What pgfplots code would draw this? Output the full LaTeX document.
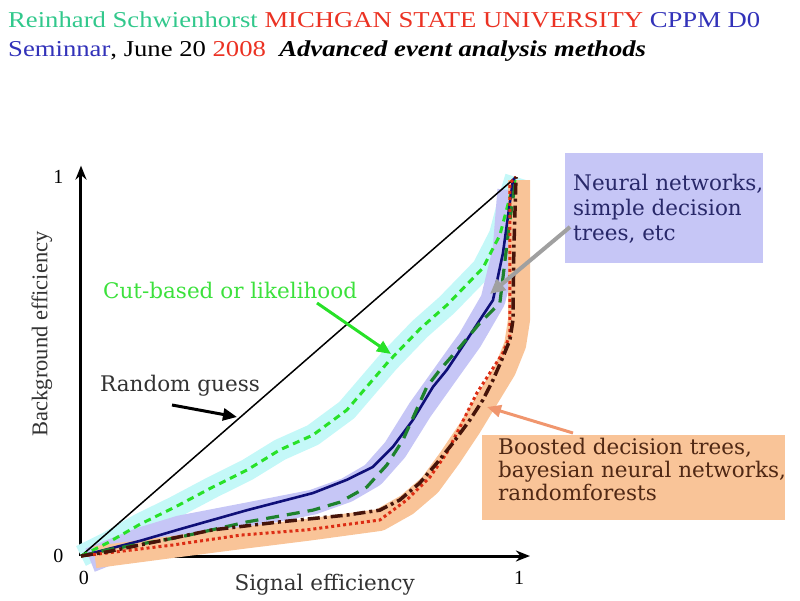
\documentclass[border=0pt]{standalone}
\usepackage{pgfplots}
\pgfplotsset{compat=1.18}
\usepackage{fontspec}
\setmainfont{Liberation Serif}
\newfontfamily\dvs{DejaVu Serif}
\usetikzlibrary{arrows.meta}
\definecolor{hdgreen}{RGB}{50,200,140}
\definecolor{hdred}{RGB}{235,50,35}
\definecolor{hdblue}{RGB}{50,50,185}
\definecolor{cyanband}{RGB}{196,248,248}
\definecolor{lavband}{RGB}{198,198,246}
\definecolor{orband}{RGB}{249,196,152}
\definecolor{cutgreen}{RGB}{40,225,40}
\definecolor{labgreen}{RGB}{60,225,60}
\definecolor{dkgreen}{RGB}{30,130,45}
\definecolor{navy}{RGB}{15,15,120}
\definecolor{dkbrown}{RGB}{70,20,10}
\definecolor{dotred}{RGB}{220,45,20}
\definecolor{nntext}{RGB}{40,40,105}
\definecolor{bdttext}{RGB}{80,40,20}
\definecolor{grayarrow}{RGB}{160,160,160}
\definecolor{orarrow}{RGB}{240,150,110}
\pgfplotstableread{
x y
0 0
0.060 0.034
0.136 0.084
0.216 0.129
0.303 0.182
0.382 0.227
0.457 0.280
0.533 0.319
0.611 0.385
0.706 0.512
0.779 0.599
0.841 0.662
0.924 0.760
0.963 0.847
0.986 0.947
1 1
}\cutdata
\pgfplotstableread{
x y
0 0
0.136 0.040
0.228 0.071
0.382 0.121
0.533 0.166
0.611 0.201
0.671 0.235
0.717 0.288
0.763 0.359
0.809 0.446
0.841 0.491
0.887 0.570
0.917 0.623
0.947 0.675
0.970 0.799
0.993 0.992
1 1
}\nnsolid
\pgfplotstableread{
x y
0 0
0.060 0.016
0.228 0.050
0.382 0.090
0.533 0.121
0.595 0.142
0.657 0.182
0.703 0.240
0.740 0.306
0.795 0.446
0.825 0.491
0.871 0.551
0.917 0.615
0.963 0.668
0.986 0.887
1 1
}\nndashed
\pgfplotstableread{
x y
0 0
0.060 0.011
0.303 0.069
0.457 0.090
0.611 0.108
0.687 0.121
0.733 0.148
0.779 0.193
0.818 0.245
0.855 0.298
0.894 0.359
0.924 0.412
0.947 0.464
0.970 0.525
0.986 0.570
0.993 0.623
0.995 0.807
1 1
}\bdtdashdot
\pgfplotstableread{
x y
0 0
0.060 0.008
0.211 0.029
0.366 0.055
0.520 0.069
0.687 0.095
0.749 0.148
0.802 0.208
0.841 0.272
0.871 0.340
0.910 0.430
0.940 0.483
0.970 0.536
0.986 0.583
0.986 0.675
0.986 0.984
1 1
}\bdtdotted
\begin{document}
\begin{tikzpicture}[x=1pt,y=1pt]
\useasboundingbox (0,0) rectangle (800,600);
% header
\node[anchor=base west, inner sep=0] at (8,572) {\scalebox{1.175}[1]{\fontsize{22.7}{22.7}\selectfont\textcolor{hdgreen}{Reinhard Schwienhorst} \textcolor{hdred}{MICHGAN STATE UNIVERSITY} \textcolor{hdblue}{CPPM D0}}};
\node[anchor=base west, inner sep=0] at (8,543) {\scalebox{1.175}[1]{\fontsize{22.7}{22.7}\selectfont\textcolor{hdblue}{Seminnar}, June 20 \textcolor{hdred}{2008}\hspace{0.5em}\textbf{\textit{Advanced event analysis methods}}}};
% boxes
\fill[lavband] (565,447) rectangle (763,337);
\fill[orband] (482,165) rectangle (785,80);
\begin{axis}[
  at={(81pt,44pt)}, anchor=south west,
  x=435pt, y=379pt,
  xmin=0, xmax=1.032, ymin=0, ymax=1.03,
  axis lines=left,
  axis line style={line width=3pt, -{Stealth[length=14pt,width=11pt]}},
  xtick={0,1}, ytick={0,1},
  major tick length=0pt,
  /pgf/number format/assume math mode=true,
  ticklabel style={font=\fontsize{20}{20}\selectfont},
  xticklabel style={yshift=-12pt, xshift=3pt},
  yticklabel style={xshift=-14pt},
  xlabel={\dvs Signal efficiency},
  ylabel={Background efficiency},
  xlabel style={at={(axis description cs:0.543,0)}, anchor=center, yshift=-29pt, font=\fontsize{21.5}{21.5}\selectfont, text=black!80},
  ylabel style={at={(axis description cs:0,0.569)}, anchor=center, yshift=39pt, font=\fontsize{22.5}{22.5}\selectfont, text=black!80},
  clip=false,
]
% bands
\addplot[draw=cyanband, line width=22pt, line join=round] table {\cutdata};
\addplot[draw=lavband, line width=25pt, line join=round] coordinates {
 (0.021,-0.011) (0.136,0.042) (0.228,0.074) (0.382,0.108) (0.533,0.142)
 (0.611,0.174) (0.671,0.214) (0.722,0.280) (0.779,0.385) (0.841,0.485)
 (0.894,0.570) (0.947,0.675) (0.975,0.807) (0.986,0.966)};
\addplot[draw=orband, line width=22pt, line join=round] coordinates {
 (0.032,-0.003) (0.211,0.024) (0.366,0.047) (0.520,0.069) (0.687,0.095)
 (0.749,0.135) (0.802,0.187) (0.848,0.259) (0.894,0.338) (0.940,0.425)
 (0.975,0.491) (0.998,0.557) (1.007,0.623) (1.007,0.992)};
% random guess
\addplot[black, line width=1.5pt] coordinates {(0,0) (1,1)};
% cut-based
\addplot[cutgreen, line width=3pt, dash pattern=on 7pt off 5pt] table {\cutdata};
% NN solid
\addplot[navy, line width=2.6pt] table {\nnsolid};
% NN dashed
\addplot[dkgreen, line width=3.2pt, dash pattern=on 13pt off 8pt] table {\nndashed};
% BDT dotted
\addplot[dotred, line width=3pt, dash pattern=on 3pt off 3pt] table {\bdtdotted};
% BDT dash-dot
\addplot[dkbrown, line width=3.5pt, dash pattern=on 12pt off 4pt on 3pt off 4pt] table {\bdtdashdot};
\end{axis}
% labels
\node[anchor=mid west, inner sep=0, text=labgreen] at (103,304) {\dvs\fontsize{21.5}{21.5}\selectfont Cut-based or likelihood};
\node[anchor=mid west, inner sep=0, text=black!80] at (100,211) {\dvs\fontsize{21.5}{21.5}\selectfont Random guess};
\node[anchor=mid west, inner sep=0, text=nntext] at (573,412) {\dvs\fontsize{21.5}{21.5}\selectfont Neural networks,};
\node[anchor=mid west, inner sep=0, text=nntext] at (573,387) {\dvs\fontsize{21.5}{21.5}\selectfont simple decision};
\node[anchor=mid west, inner sep=0, text=nntext] at (573,362) {\dvs\fontsize{21.5}{21.5}\selectfont trees, etc};
\node[anchor=mid west, inner sep=0, text=bdttext] at (498,148) {\dvs\fontsize{21.5}{21.5}\selectfont Boosted decision trees,};
\node[anchor=mid west, inner sep=0, text=bdttext] at (498,125) {\dvs\fontsize{21.5}{21.5}\selectfont bayesian neural networks,};
\node[anchor=mid west, inner sep=0, text=bdttext] at (498,102) {\dvs\fontsize{21.5}{21.5}\selectfont randomforests};
% arrows
\draw[black, line width=3pt, -{Triangle[length=14pt,width=12pt]}] (172,195) -- (237,183);
\draw[cutgreen, line width=3pt, -{Triangle[length=14pt,width=12pt]}] (317,297) -- (391,246);
\draw[grayarrow, line width=4pt, -{Triangle[length=15pt,width=14pt]}] (570,373) -- (490,306);
\draw[orarrow, line width=3pt, -{Triangle[length=14pt,width=12pt]}] (573,167) -- (487,193);
\end{tikzpicture}
\end{document}
